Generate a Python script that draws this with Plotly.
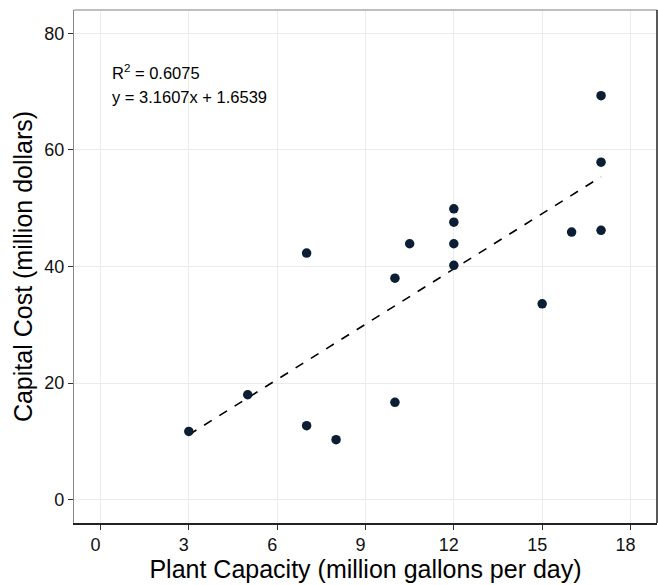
import plotly.graph_objects as go

capacity = [3, 5, 7, 7, 8, 10, 10, 10.5, 12, 12, 12, 12, 15, 16, 17, 17, 17]
cost = [11.7, 18.0, 42.3, 12.7, 10.3, 38.0, 16.7, 43.9, 49.9, 47.6, 43.9, 40.2, 33.6, 45.9, 69.3, 57.9, 46.2]
slope = 3.1607
intercept = 1.6539
r2_text = "R<sup>2</sup> = 0.6075"
eq_text = "y = 3.1607x + 1.6539"
x_ticks = [0, 3, 6, 9, 12, 15, 18]
y_ticks = [0, 20, 40, 60, 80]

fit_x = [min(capacity), max(capacity)]
fit_y = [slope * v + intercept for v in fit_x]

fig = go.Figure()
fig.add_trace(go.Scatter(x=fit_x, y=fit_y, mode="lines",
                         line=dict(color="black", width=1.6, dash="dash"),
                         showlegend=False, hoverinfo="skip"))
fig.add_trace(go.Scatter(x=capacity, y=cost, mode="markers",
                         marker=dict(color="#0b1e33", size=9.5, line=dict(width=0)),
                         showlegend=False))

font = "Liberation Sans, Arial, sans-serif"
fig.update_layout(
    width=658, height=585,
    margin=dict(l=74, r=1, t=10, b=62),
    paper_bgcolor="white", plot_bgcolor="white",
    font=dict(family=font, color="black"),
    xaxis=dict(range=[-0.9, 18.9], tickvals=x_ticks, showgrid=True, gridcolor="#ebebeb",
               gridwidth=1, zeroline=False, showline=True, linecolor="#222222", linewidth=1.5,
               ticks="outside", ticklen=5, tickcolor="#333333", tickwidth=1,
               ticklabelshift=-5,
               tickfont=dict(size=18, color="#111111", family=font),
               title=dict(text="Plant Capacity (million gallons per day)",
                          font=dict(size=25, color="black", family=font), standoff=2)),
    yaxis=dict(range=[-4, 84], tickvals=y_ticks, showgrid=True, gridcolor="#ebebeb",
               gridwidth=1, zeroline=False, showline=True, linecolor="#888888", linewidth=1.2,
               ticks="outside", ticklen=5, tickcolor="#333333", tickwidth=1,
               tickfont=dict(size=18, color="#111111", family=font),
               title=dict(text="Capital Cost (million dollars)",
                          font=dict(size=25, color="black", family=font), standoff=4)),
    shapes=[
        dict(type="line", xref="paper", yref="paper", x0=0, x1=1, y0=1, y1=1,
             line=dict(color="#aaaaaa", width=1.5)),
        dict(type="line", xref="paper", yref="paper", x0=1, x1=1, y0=0, y1=1,
             line=dict(color="#222222", width=1.5)),
    ],
    annotations=[
        dict(text=r2_text, xref="paper", yref="paper", x=0.062, y=0.879,
             xanchor="left", yanchor="middle", showarrow=False,
             font=dict(size=16.5, color="black", family=font)),
        dict(text=eq_text, xref="paper", yref="paper", x=0.062, y=0.830,
             xanchor="left", yanchor="middle", showarrow=False,
             font=dict(size=16.5, color="black", family=font)),
    ],
)

fig.write_html("out.html")
